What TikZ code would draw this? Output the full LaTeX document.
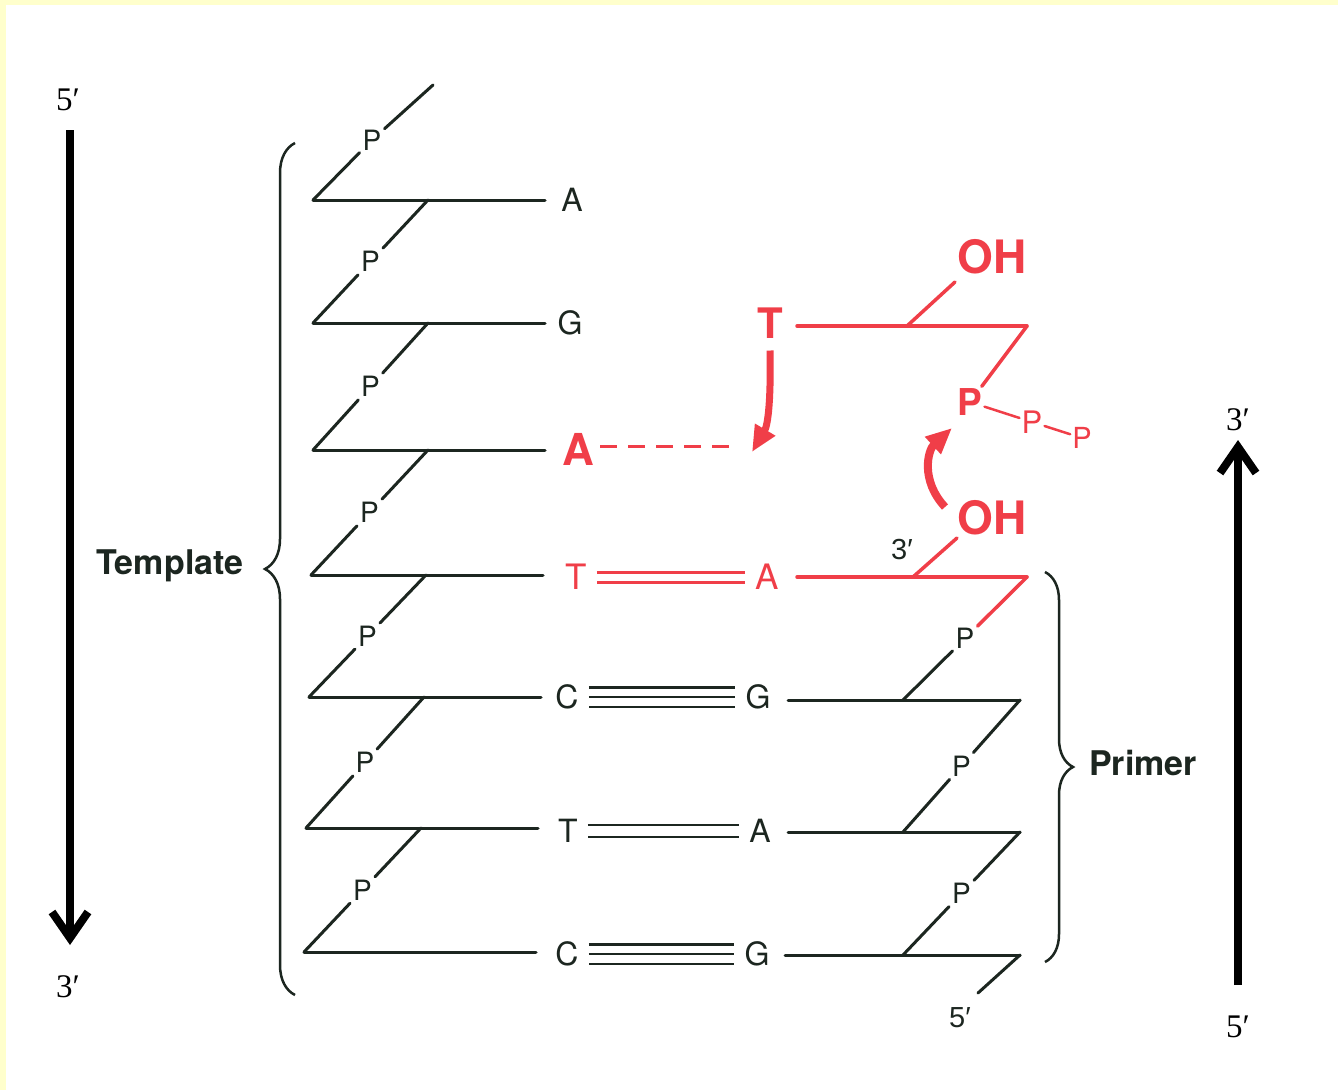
\documentclass[tikz,border=0pt]{standalone}
\usepackage{fontspec}
\setsansfont{TeX Gyre Heros}
\newfontfamily\primeserif{Liberation Serif}
\newfontfamily\primesans{Liberation Sans}
\usetikzlibrary{arrows.meta,calc,decorations.pathreplacing}
\definecolor{dna}{RGB}{28,38,32}
\definecolor{rna}{RGB}{240,62,72}
\definecolor{framecol}{RGB}{255,255,204}
\tikzset{
  strand/.style={line width=3pt,draw=dna,line cap=round},
  newstrand/.style={line width=3.5pt,draw=rna,line cap=round},
  phos/.style={inner sep=3pt,text=dna,font=\sffamily\fontsize{28}{28}\selectfont},
  primelabel/.style={inner sep=2pt,text=dna,font=\primesans\fontsize{29}{29}\selectfont},
  base/.style={inner sep=10pt,text=dna,font=\sffamily\fontsize{32}{32}\selectfont},
  redbase/.style={inner sep=10pt,text=rna,font=\sffamily\fontsize{35}{35}\selectfont},
  bigred/.style={inner sep=6pt,text=rna,font=\sffamily\bfseries\fontsize{44}{44}\selectfont},
  ohlabel/.style={inner sep=0pt,text=rna,font=\sffamily\bfseries\fontsize{46}{46}\selectfont},
  endlabel/.style={inner sep=0pt,text=black,font=\primeserif\fontsize{33}{33}\selectfont},
  sidelabel/.style={inner sep=0pt,text=dna,font=\sffamily\bfseries\fontsize{34}{34}\selectfont},
  bigarrow/.style={line width=8pt,-{Straight Barb[length=26pt,width=36pt]}},
  bendarrow/.style={line width=7pt,draw=rna,-{Triangle[length=26pt,width=22pt]}},
  curly/.style={draw=dna,line width=2.5pt,decorate,decoration={brace,amplitude=#1}}
}
\begin{document}
\begin{tikzpicture}[x=1pt,y=-1pt]
\useasboundingbox (0,0) rectangle (1338,1090);
\fill[framecol] (0,0) rectangle (1338,1090);
\fill[white] (6,5) rectangle (1338,1090);

% direction arrows
\node[endlabel] (l5) at (68,100) {5′};
\node[endlabel] (l3) at (68,987) {3′};
\coordinate (la) at (70,130);
\coordinate (lb) at (70,945);
\draw[bigarrow] (la) -- (lb);
\node[endlabel] (r3) at (1238,420) {3′};
\node[endlabel] (r5) at (1238,1027) {5′};
\coordinate (ra) at (1238,985);
\coordinate (rb) at (1238,440);
\draw[bigarrow] (ra) -- (rb);

% template strand
\foreach \n/\y/\xl in {1/200/313,2/323/313,3/450/313,4/575/311,5/697/309,6/828/306,7/952/304}{
  \coordinate (l\n) at (\xl,\y);
  \coordinate (m\n) at (\xl+115,\y);
  \coordinate (r\n) at (\xl+232,\y);
  \draw[strand] (l\n) -- (r\n);
}
\node[phos] (p1) at (372,140) {P};
\coordinate (t0) at (433,85);
\draw[strand] (l1) -- (p1);
\draw[strand] (p1) -- (t0);
\foreach \j [count=\i] in {2,...,7}{
  \node[phos] (p\j) at ($(m\i)!0.5!(l\j)$) {P};
  \draw[strand] (m\i) -- (p\j);
  \draw[strand] (p\j) -- (l\j);
}

% template bases
\node[base] (b1) at (572,200) {A};
\node[base] (b2) at (570,323) {G};
\node[bigred] (b3) at (578,449) {A};
\node[redbase] (b4) at (576,577) {T};
\node[base] (b5) at (567,697) {C};
\node[base] (b6) at (568,831) {T};
\node[base] (b7) at (567,954) {C};

% primer bases
\node[redbase] (c4) at (767,577) {A};
\node[base] (c5) at (758,697) {G};
\node[base] (c6) at (760,831) {A};
\node[base] (c7) at (757,954) {G};

% pairing
\draw[line width=3pt,draw=rna,double=white,double distance=7pt] (b4) -- (c4);
\draw[line width=2.5pt,draw=dna,double=white,double distance=17pt] (b5) -- (c5);
\draw[line width=2.5pt,draw=dna] (b5) -- (c5);
\draw[line width=2.5pt,draw=dna,double=white,double distance=9.5pt] (b6) -- (c6);
\draw[line width=2.5pt,draw=dna,double=white,double distance=17pt] (b7) -- (c7);
\draw[line width=2.5pt,draw=dna] (b7) -- (c7);

% primer strand
\coordinate (q4l) at (797,577);
\coordinate (q4m) at (913,577);
\coordinate (q4r) at (1027,577);
\draw[newstrand] (q4l) -- (q4r);
\foreach \n/\y/\xl in {5/700/788,6/832/788,7/955/785}{
  \coordinate (q\n l) at (\xl,\y);
  \coordinate (q\n m) at (903,\y);
  \coordinate (q\n r) at (1020,\y);
  \draw[strand] (q\n l) -- (q\n r);
}
\node[phos] (pp5) at ($(q4r)!0.5!(q5m)$) {P};
\draw[newstrand] (q4r) -- (pp5);
\draw[strand] (pp5) -- (q5m);
\foreach \j [count=\i from 5] in {6,7}{
  \node[phos] (pp\j) at ($(q\i r)!0.5!(q\j m)$) {P};
  \draw[strand] (q\i r) -- (pp\j);
  \draw[strand] (pp\j) -- (q\j m);
}
\coordinate (q8) at (978,993);
\draw[strand] (q7r) -- (q8);
\node[primelabel] (p5end) at (960,1018) {5′};

% 3' end of primer
\coordinate (oh4s) at (957,538);
\draw[newstrand] (q4m) -- (oh4s);
\node[ohlabel] (oh2) at (992,518) {OH};
\node[primelabel] (p3end) at (902,550) {3′};

% incoming nucleotide
\node[bigred,font=\sffamily\bfseries\fontsize{42}{42}\selectfont] (tN) at (770,323) {T};
\coordinate (nl) at (797,326);
\coordinate (nm) at (907,326);
\coordinate (nr) at (1027,326);
\draw[newstrand] (nl) -- (nr);
\coordinate (noh) at (955,282);
\draw[newstrand] (nm) -- (noh);
\node[ohlabel] (oh1) at (992,257) {OH};
\node[inner sep=2pt,text=rna,font=\sffamily\bfseries\fontsize{37}{37}\selectfont] (pa) at (970,402) {P};
\node[inner sep=2pt,text=rna,font=\sffamily\fontsize{31}{31}\selectfont] (pb) at (1032,422) {P};
\node[inner sep=2pt,text=rna,font=\sffamily\fontsize{29}{29}\selectfont] (pc) at (1082,438) {P};
\draw[newstrand] (nr) -- (pa);
\draw[newstrand,line width=2.5pt] (pa) -- (pb);
\draw[newstrand,line width=2.5pt] (pb) -- (pc);

% hydrogen bond to be formed, and attack
\coordinate (dEnd) at (738,446);
\draw[newstrand,line width=3pt,line cap=butt,dash pattern=on 17pt off 11pt] ([yshift=3pt]b3.east) -- (dEnd);
\coordinate (hb) at (752,452);
\draw[bendarrow] ([yshift=-6pt]tN.south) .. controls (771,400) and (768,425) .. (hb);
\coordinate (a2s) at (945,507);
\coordinate (a2e) at (952,428);
\draw[bendarrow,line width=8pt] (a2s) .. controls (920,480) and (928,450) .. (a2e);

% braces
\draw[curly=30pt] (295,995) -- (295,143);
\node[sidelabel] (tmpl) at (170,566) {Template};
\draw[curly=28pt] (1045,572) -- (1045,962);
\node[sidelabel] (prim) at (1143,763) {Primer};
\end{tikzpicture}
\end{document}
